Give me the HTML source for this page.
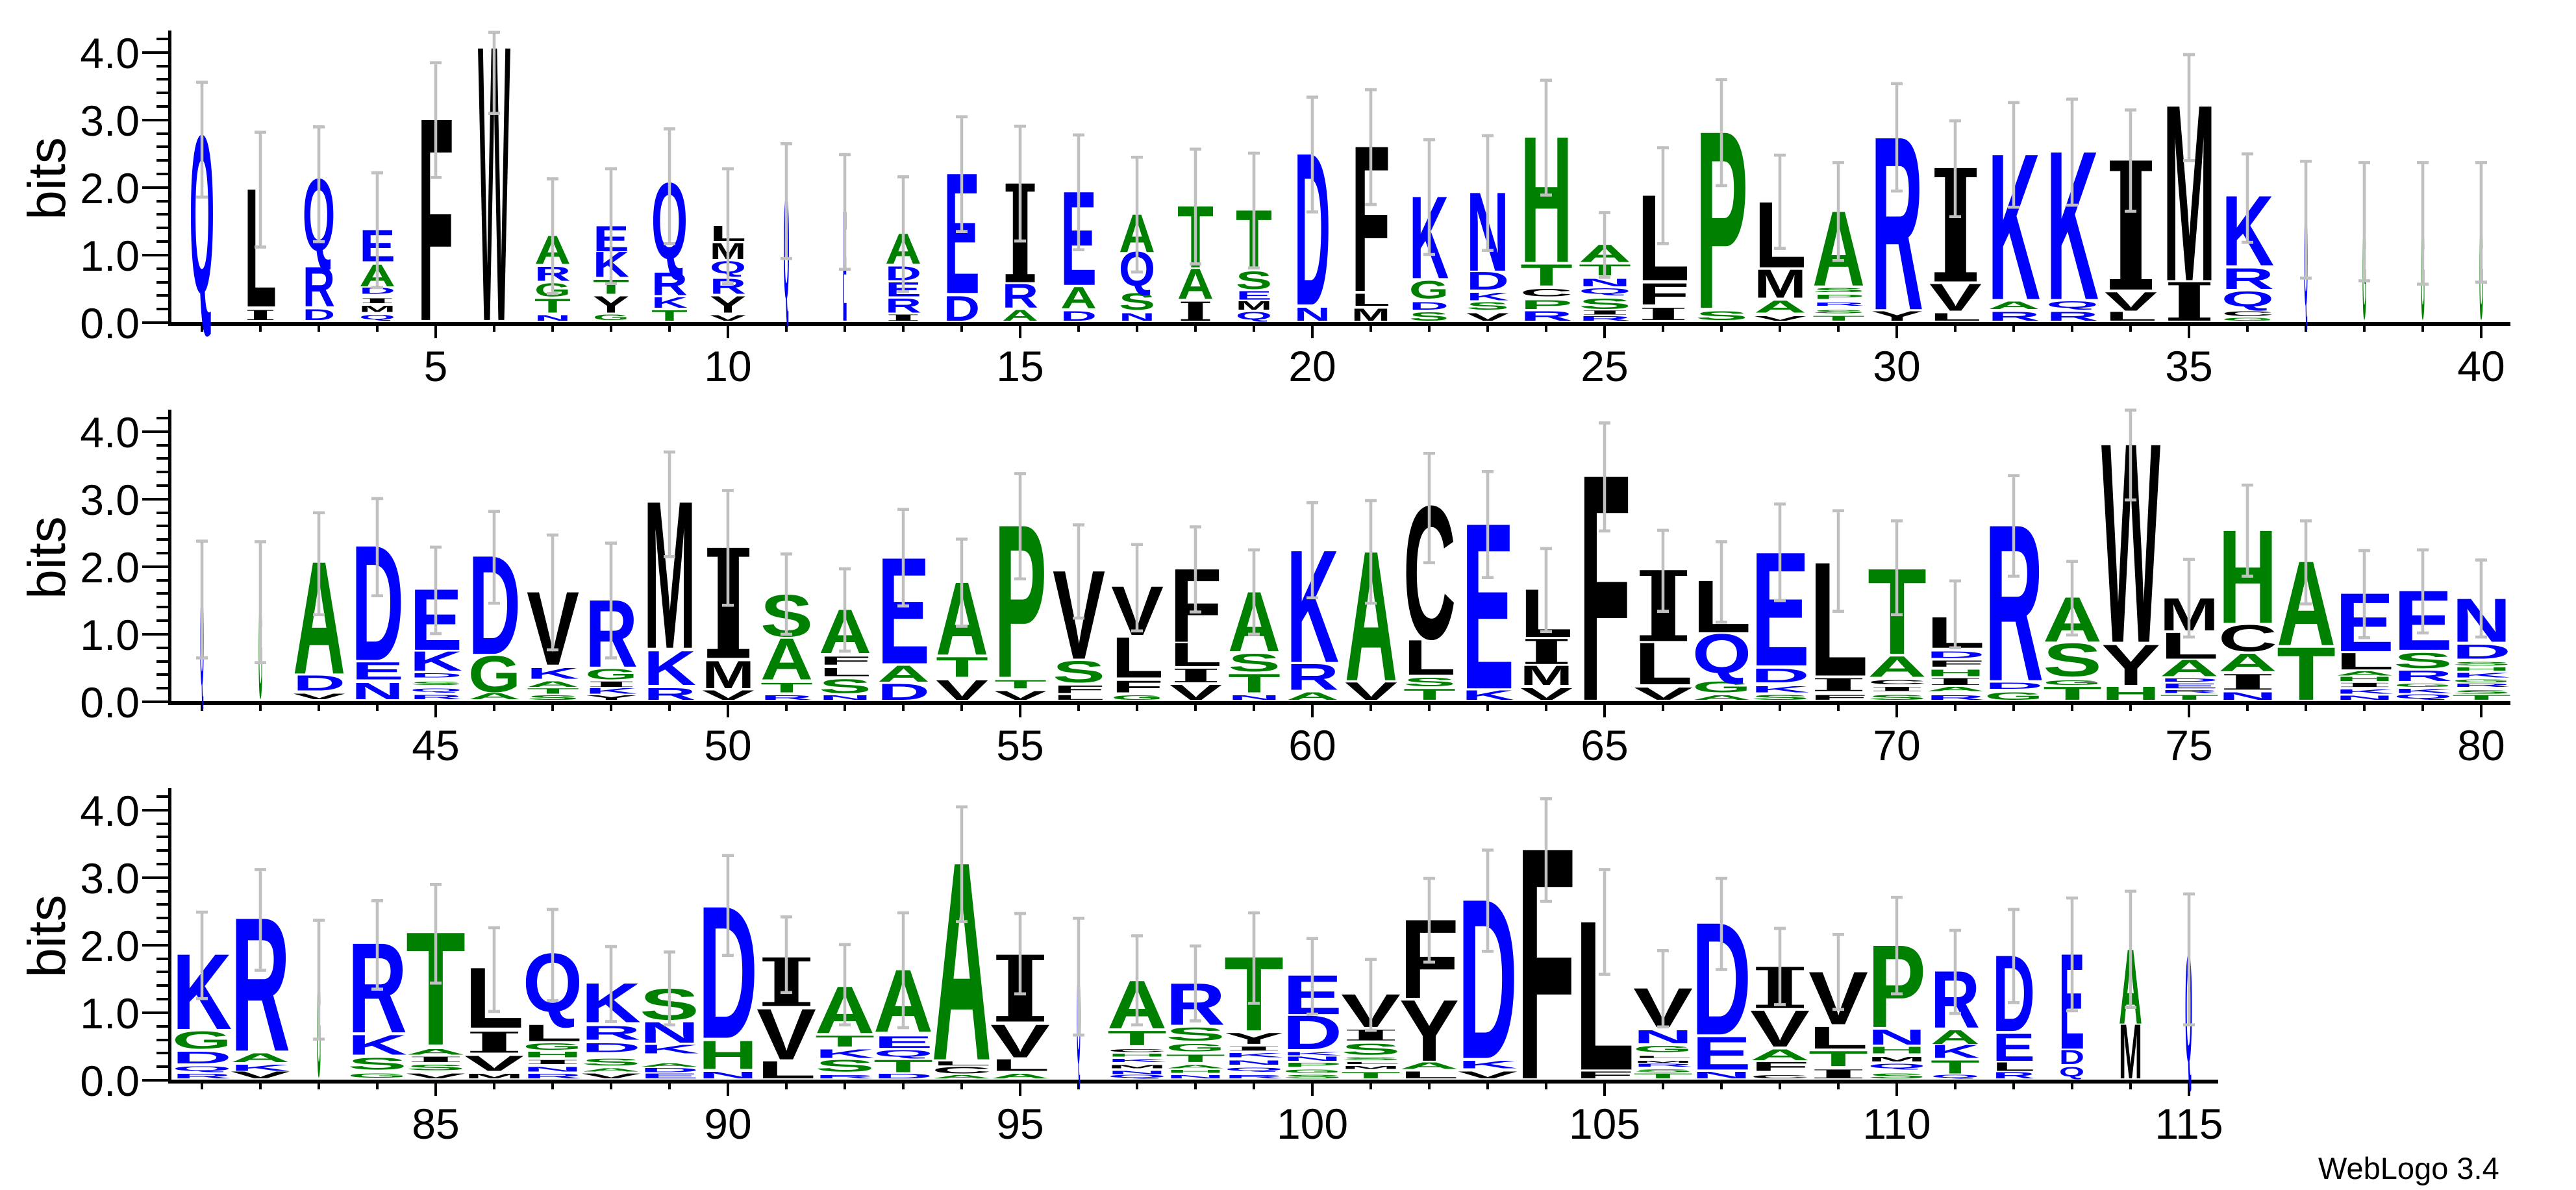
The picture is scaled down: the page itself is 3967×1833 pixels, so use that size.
<!DOCTYPE html>
<html><head><meta charset="utf-8"><style>
html,body{margin:0;padding:0;background:#fff}
svg{display:block}
.L text{font-family:"Liberation Sans",sans-serif;font-weight:bold;font-size:145.35px}
.L text.i{font-family:"DejaVu Serif",serif;font-size:137.17px}
.b{fill:#0000ff}.g{fill:#008000}.k{fill:#000}
.e{stroke:#c0c0c0;stroke-width:4.5;fill:none}
.lab{font-family:"Liberation Sans",sans-serif;font-size:66px;fill:#000}
</style></head><body>
<svg width="3967" height="1833" viewBox="0 0 3967 1833" xmlns="http://www.w3.org/2000/svg">
<rect width="3967" height="1833" fill="#fff"/>
<!-- axes row 1 -->
<g fill="#000">
<rect x="259" y="47" width="5" height="455"/>
<rect x="262" y="496" width="3604" height="6"/>
<rect x="219" y="495" width="43" height="4"/><rect x="219" y="391" width="43" height="4"/><rect x="219" y="287" width="43" height="4"/><rect x="219" y="183" width="43" height="4"/><rect x="219" y="79" width="43" height="4"/>
<rect x="241" y="474" width="21" height="4"/><rect x="241" y="453" width="21" height="4"/><rect x="241" y="433" width="21" height="4"/><rect x="241" y="412" width="21" height="4"/><rect x="241" y="370" width="21" height="4"/><rect x="241" y="349" width="21" height="4"/><rect x="241" y="328" width="21" height="4"/><rect x="241" y="308" width="21" height="4"/><rect x="241" y="266" width="21" height="4"/><rect x="241" y="245" width="21" height="4"/><rect x="241" y="224" width="21" height="4"/><rect x="241" y="204" width="21" height="4"/><rect x="241" y="162" width="21" height="4"/><rect x="241" y="141" width="21" height="4"/><rect x="241" y="120" width="21" height="4"/><rect x="241" y="100" width="21" height="4"/><rect x="241" y="58" width="21" height="4"/>
</g>
<!-- axes row 2 -->
<g fill="#000">
<rect x="259" y="631" width="5" height="455"/>
<rect x="262" y="1080" width="3604" height="6"/>
<rect x="219" y="1079" width="43" height="4"/><rect x="219" y="975" width="43" height="4"/><rect x="219" y="871" width="43" height="4"/><rect x="219" y="767" width="43" height="4"/><rect x="219" y="663" width="43" height="4"/>
<rect x="241" y="1058" width="21" height="4"/><rect x="241" y="1037" width="21" height="4"/><rect x="241" y="1017" width="21" height="4"/><rect x="241" y="996" width="21" height="4"/><rect x="241" y="954" width="21" height="4"/><rect x="241" y="933" width="21" height="4"/><rect x="241" y="912" width="21" height="4"/><rect x="241" y="892" width="21" height="4"/><rect x="241" y="850" width="21" height="4"/><rect x="241" y="829" width="21" height="4"/><rect x="241" y="808" width="21" height="4"/><rect x="241" y="788" width="21" height="4"/><rect x="241" y="746" width="21" height="4"/><rect x="241" y="725" width="21" height="4"/><rect x="241" y="704" width="21" height="4"/><rect x="241" y="684" width="21" height="4"/><rect x="241" y="642" width="21" height="4"/>
</g>
<!-- axes row 3 -->
<g fill="#000">
<rect x="259" y="1214" width="5" height="455"/>
<rect x="262" y="1663" width="3154" height="6"/>
<rect x="219" y="1662" width="43" height="4"/><rect x="219" y="1558" width="43" height="4"/><rect x="219" y="1454" width="43" height="4"/><rect x="219" y="1350" width="43" height="4"/><rect x="219" y="1246" width="43" height="4"/>
<rect x="241" y="1641" width="21" height="4"/><rect x="241" y="1620" width="21" height="4"/><rect x="241" y="1600" width="21" height="4"/><rect x="241" y="1579" width="21" height="4"/><rect x="241" y="1537" width="21" height="4"/><rect x="241" y="1516" width="21" height="4"/><rect x="241" y="1495" width="21" height="4"/><rect x="241" y="1475" width="21" height="4"/><rect x="241" y="1433" width="21" height="4"/><rect x="241" y="1412" width="21" height="4"/><rect x="241" y="1391" width="21" height="4"/><rect x="241" y="1371" width="21" height="4"/><rect x="241" y="1329" width="21" height="4"/><rect x="241" y="1308" width="21" height="4"/><rect x="241" y="1287" width="21" height="4"/><rect x="241" y="1267" width="21" height="4"/><rect x="241" y="1225" width="21" height="4"/>
</g>
<!-- x ticks -->
<g stroke="#000" stroke-width="4">
<path d="M311 502v9M401 502v9M491 502v9M581 502v9M671 502v19M761 502v9M851 502v9M941 502v9M1031 502v9M1121 502v19M1211 502v9M1301 502v9M1391 502v9M1481 502v9M1571 502v19M1661 502v9M1751 502v9M1841 502v9M1931 502v9M2021 502v19M2111 502v9M2201 502v9M2291 502v9M2381 502v9M2471 502v19M2561 502v9M2651 502v9M2741 502v9M2831 502v9M2921 502v19M3011 502v9M3101 502v9M3191 502v9M3281 502v9M3371 502v19M3461 502v9M3551 502v9M3641 502v9M3731 502v9M3821 502v19"/>
<path d="M311 1086v9M401 1086v9M491 1086v9M581 1086v9M671 1086v19M761 1086v9M851 1086v9M941 1086v9M1031 1086v9M1121 1086v19M1211 1086v9M1301 1086v9M1391 1086v9M1481 1086v9M1571 1086v19M1661 1086v9M1751 1086v9M1841 1086v9M1931 1086v9M2021 1086v19M2111 1086v9M2201 1086v9M2291 1086v9M2381 1086v9M2471 1086v19M2561 1086v9M2651 1086v9M2741 1086v9M2831 1086v9M2921 1086v19M3011 1086v9M3101 1086v9M3191 1086v9M3281 1086v9M3371 1086v19M3461 1086v9M3551 1086v9M3641 1086v9M3731 1086v9M3821 1086v19"/>
<path d="M311 1669v9M401 1669v9M491 1669v9M581 1669v9M671 1669v19M761 1669v9M851 1669v9M941 1669v9M1031 1669v9M1121 1669v19M1211 1669v9M1301 1669v9M1391 1669v9M1481 1669v9M1571 1669v19M1661 1669v9M1751 1669v9M1841 1669v9M1931 1669v9M2021 1669v19M2111 1669v9M2201 1669v9M2291 1669v9M2381 1669v9M2471 1669v19M2561 1669v9M2651 1669v9M2741 1669v9M2831 1669v9M2921 1669v19M3011 1669v9M3101 1669v9M3191 1669v9M3281 1669v9M3371 1669v19"/>
</g>
<!-- labels -->
<g class="lab" text-anchor="end">
<text x="215" y="521">0.0</text><text x="215" y="417">1.0</text><text x="215" y="313">2.0</text><text x="215" y="209">3.0</text><text x="215" y="105">4.0</text>
<text x="215" y="1105">0.0</text><text x="215" y="1001">1.0</text><text x="215" y="897">2.0</text><text x="215" y="793">3.0</text><text x="215" y="689">4.0</text>
<text x="215" y="1688">0.0</text><text x="215" y="1584">1.0</text><text x="215" y="1480">2.0</text><text x="215" y="1376">3.0</text><text x="215" y="1272">4.0</text>
</g>
<g class="lab" text-anchor="middle">
<text x="671" y="587">5</text><text x="1121" y="587">10</text><text x="1571" y="587">15</text><text x="2021" y="587">20</text><text x="2471" y="587">25</text><text x="2921" y="587">30</text><text x="3371" y="587">35</text><text x="3821" y="587">40</text>
<text x="671" y="1171">45</text><text x="1121" y="1171">50</text><text x="1571" y="1171">55</text><text x="2021" y="1171">60</text><text x="2471" y="1171">65</text><text x="2921" y="1171">70</text><text x="3371" y="1171">75</text><text x="3821" y="1171">80</text>
<text x="671" y="1754">85</text><text x="1121" y="1754">90</text><text x="1571" y="1754">95</text><text x="2021" y="1754">100</text><text x="2471" y="1754">105</text><text x="2921" y="1754">110</text><text x="3371" y="1754">115</text>
<text transform="translate(100,275) rotate(-90)" style="font-size:82px">bits</text>
<text transform="translate(100,859) rotate(-90)" style="font-size:82px">bits</text>
<text transform="translate(100,1442) rotate(-90)" style="font-size:82px">bits</text>
</g>
<text x="3570" y="1816" style="font-family:'Liberation Sans',sans-serif;font-size:47px">WebLogo 3.4</text>

<g class="L">
<!-- ROW 1 -->
<g transform="translate(311,497) scale(1,1.04)"><text class="b" x="-19" textLength="38" lengthAdjust="spacingAndGlyphs" transform="translate(0,-45) scale(1,2.3)">Q</text><path class="e" d="M-9 -356h18M0 -356V-186M-9 -186h18"/></g>
<g transform="translate(401,497) scale(1,1.04)"><text class="k i" x="-25" textLength="50" lengthAdjust="spacingAndGlyphs" transform="translate(0,-4) scale(1,0.15)">I</text><text class="k" x="-25" textLength="50" lengthAdjust="spacingAndGlyphs" transform="translate(0,-24) scale(1,1.73)">L</text><path class="e" d="M-9 -282h18M0 -282V-112M-9 -112h18"/></g>
<g transform="translate(491,497) scale(1,1.04)"><text class="b" x="-25" textLength="50" lengthAdjust="spacingAndGlyphs" transform="translate(0,-4) scale(1,0.16)">D</text><text class="b" x="-25" textLength="50" lengthAdjust="spacingAndGlyphs" transform="translate(0,-24) scale(1,0.58)">R</text><text class="b" x="-25" textLength="50" lengthAdjust="spacingAndGlyphs" transform="translate(0,-107) scale(1,1.05)">Q</text><path class="e" d="M-9 -290h18M0 -290V-120M-9 -120h18"/></g>
<g transform="translate(581,497) scale(1,1.04)"><text class="b" x="-28" textLength="56" lengthAdjust="spacingAndGlyphs" transform="translate(0,-5) scale(1,0.07)">Q</text><text class="k" x="-28" textLength="56" lengthAdjust="spacingAndGlyphs" transform="translate(0,-16) scale(1,0.09)">M</text><text class="k i" x="-28" textLength="56" lengthAdjust="spacingAndGlyphs" transform="translate(0,-29) scale(1,0.07)">I</text><text class="b" x="-28" textLength="56" lengthAdjust="spacingAndGlyphs" transform="translate(0,-43) scale(1,0.09)">D</text><text class="g" x="-28" textLength="56" lengthAdjust="spacingAndGlyphs" transform="translate(0,-54) scale(1,0.32)">A</text><text class="b" x="-28" textLength="56" lengthAdjust="spacingAndGlyphs" transform="translate(0,-91) scale(1,0.46)">E</text><path class="e" d="M-9 -222h18M0 -222V-52M-9 -52h18"/></g>
<g transform="translate(671,497) scale(1,1.04)"><text class="k" x="-28" textLength="56" lengthAdjust="spacingAndGlyphs" transform="translate(0,-4) scale(1,2.96)">F</text><path class="e" d="M-9 -385h18M0 -385V-215M-9 -215h18"/></g>
<g transform="translate(761,497) scale(1,1.04)"><text class="k" x="-25" textLength="50" lengthAdjust="spacingAndGlyphs" transform="translate(0,-4) scale(1,4.02)">W</text><path class="e" d="M-9 -430h18M0 -430V-310M-9 -310h18"/></g>
<g transform="translate(851,497) scale(1,1.04)"><text class="b" x="-28" textLength="56" lengthAdjust="spacingAndGlyphs" transform="translate(0,-3) scale(1,0.08)">N</text><text class="g" x="-28" textLength="56" lengthAdjust="spacingAndGlyphs" transform="translate(0,-15) scale(1,0.2)">T</text><text class="g" x="-28" textLength="56" lengthAdjust="spacingAndGlyphs" transform="translate(0,-39) scale(1,0.19)">G</text><text class="b" x="-28" textLength="56" lengthAdjust="spacingAndGlyphs" transform="translate(0,-62) scale(1,0.21)">R</text><text class="g" x="-28" textLength="56" lengthAdjust="spacingAndGlyphs" transform="translate(0,-87) scale(1,0.41)">A</text><path class="e" d="M-9 -213h18M0 -213V-43M-9 -43h18"/></g>
<g transform="translate(941,497) scale(1,1.04)"><text class="g" x="-28" textLength="56" lengthAdjust="spacingAndGlyphs" transform="translate(0,-4) scale(1,0.08)">G</text><text class="k" x="-28" textLength="56" lengthAdjust="spacingAndGlyphs" transform="translate(0,-15) scale(1,0.24)">Y</text><text class="g" x="-28" textLength="56" lengthAdjust="spacingAndGlyphs" transform="translate(0,-43) scale(1,0.21)">T</text><text class="b" x="-28" textLength="56" lengthAdjust="spacingAndGlyphs" transform="translate(0,-68) scale(1,0.37)">K</text><text class="b" x="-28" textLength="56" lengthAdjust="spacingAndGlyphs" transform="translate(0,-106) scale(1,0.37)">E</text><path class="e" d="M-9 -228h18M0 -228V-58M-9 -58h18"/></g>
<g transform="translate(1031,497) scale(1,1.04)"><text class="g" x="-28" textLength="56" lengthAdjust="spacingAndGlyphs" transform="translate(0,-3) scale(1,0.15)">T</text><text class="b" x="-28" textLength="56" lengthAdjust="spacingAndGlyphs" transform="translate(0,-22) scale(1,0.15)">K</text><text class="b" x="-28" textLength="56" lengthAdjust="spacingAndGlyphs" transform="translate(0,-41) scale(1,0.33)">R</text><text class="b" x="-28" textLength="56" lengthAdjust="spacingAndGlyphs" transform="translate(0,-95) scale(1,1.11)">Q</text><path class="e" d="M-9 -287h18M0 -287V-117M-9 -117h18"/></g>
<g transform="translate(1121,497) scale(1,1.04)"><text class="k" x="-28" textLength="56" lengthAdjust="spacingAndGlyphs" transform="translate(0,-3) scale(1,0.08)">V</text><text class="k" x="-28" textLength="56" lengthAdjust="spacingAndGlyphs" transform="translate(0,-15) scale(1,0.24)">Y</text><text class="b" x="-28" textLength="56" lengthAdjust="spacingAndGlyphs" transform="translate(0,-43) scale(1,0.22)">R</text><text class="b" x="-28" textLength="56" lengthAdjust="spacingAndGlyphs" transform="translate(0,-73) scale(1,0.18)">Q</text><text class="k" x="-28" textLength="56" lengthAdjust="spacingAndGlyphs" transform="translate(0,-94) scale(1,0.23)">M</text><text class="k" x="-28" textLength="56" lengthAdjust="spacingAndGlyphs" transform="translate(0,-121) scale(1,0.22)">L</text><path class="e" d="M-9 -228h18M0 -228V-58M-9 -58h18"/></g>
<g transform="translate(1211,497) scale(1,1.04)"><text class="b" x="-4.5" textLength="9" lengthAdjust="spacingAndGlyphs" transform="translate(0,-36) scale(1,1.5)">Q</text><path class="e" d="M-9 -265h18M0 -265V-95M-9 -95h18"/></g>
<g transform="translate(1301,497) scale(1,1.04)"><text class="b" x="-3" textLength="6" lengthAdjust="spacingAndGlyphs" transform="translate(0,-3) scale(1,1.61)">E</text><path class="e" d="M-9 -249h18M0 -249V-79M-9 -79h18"/></g>
<g transform="translate(1391,497) scale(1,1.04)"><text class="k i" x="-28" textLength="56" lengthAdjust="spacingAndGlyphs" transform="translate(0,-3) scale(1,0.09)">I</text><text class="b" x="-28" textLength="56" lengthAdjust="spacingAndGlyphs" transform="translate(0,-15) scale(1,0.21)">R</text><text class="b" x="-28" textLength="56" lengthAdjust="spacingAndGlyphs" transform="translate(0,-39) scale(1,0.21)">E</text><text class="b" x="-28" textLength="56" lengthAdjust="spacingAndGlyphs" transform="translate(0,-63) scale(1,0.2)">D</text><text class="g" x="-28" textLength="56" lengthAdjust="spacingAndGlyphs" transform="translate(0,-87) scale(1,0.44)">A</text><path class="e" d="M-9 -216h18M0 -216V-46M-9 -46h18"/></g>
<g transform="translate(1481,497) scale(1,1.04)"><text class="b" x="-28" textLength="56" lengthAdjust="spacingAndGlyphs" transform="translate(0,-3) scale(1,0.36)">D</text><text class="b" x="-28" textLength="56" lengthAdjust="spacingAndGlyphs" transform="translate(0,-44) scale(1,1.76)">E</text><path class="e" d="M-9 -305h18M0 -305V-135M-9 -135h18"/></g>
<g transform="translate(1571,497) scale(1,1.04)"><text class="g" x="-28" textLength="56" lengthAdjust="spacingAndGlyphs" transform="translate(0,-3) scale(1,0.16)">A</text><text class="b" x="-28" textLength="56" lengthAdjust="spacingAndGlyphs" transform="translate(0,-22) scale(1,0.35)">R</text><text class="k i" x="-28" textLength="56" lengthAdjust="spacingAndGlyphs" transform="translate(0,-60) scale(1,1.46)">I</text><path class="e" d="M-9 -291h18M0 -291V-121M-9 -121h18"/></g>
<g transform="translate(1661,497) scale(1,1.04)"><text class="b" x="-28" textLength="56" lengthAdjust="spacingAndGlyphs" transform="translate(0,-3) scale(1,0.14)">D</text><text class="g" x="-28" textLength="56" lengthAdjust="spacingAndGlyphs" transform="translate(0,-21) scale(1,0.31)">A</text><text class="b" x="-28" textLength="56" lengthAdjust="spacingAndGlyphs" transform="translate(0,-56) scale(1,1.37)">E</text><path class="e" d="M-9 -278h18M0 -278V-108M-9 -108h18"/></g>
<g transform="translate(1751,497) scale(1,1.04)"><text class="b" x="-28" textLength="56" lengthAdjust="spacingAndGlyphs" transform="translate(0,-3) scale(1,0.11)">N</text><text class="g" x="-28" textLength="56" lengthAdjust="spacingAndGlyphs" transform="translate(0,-19) scale(1,0.24)">S</text><text class="b" x="-28" textLength="56" lengthAdjust="spacingAndGlyphs" transform="translate(0,-55) scale(1,0.5)">Q</text><text class="g" x="-28" textLength="56" lengthAdjust="spacingAndGlyphs" transform="translate(0,-105) scale(1,0.55)">A</text><path class="e" d="M-9 -245h18M0 -245V-75M-9 -75h18"/></g>
<g transform="translate(1841,497) scale(1,1.04)"><text class="k i" x="-28" textLength="56" lengthAdjust="spacingAndGlyphs" transform="translate(0,-3) scale(1,0.28)">I</text><text class="g" x="-28" textLength="56" lengthAdjust="spacingAndGlyphs" transform="translate(0,-35) scale(1,0.44)">A</text><text class="g" x="-28" textLength="56" lengthAdjust="spacingAndGlyphs" transform="translate(0,-82) scale(1,0.9)">T</text><path class="e" d="M-9 -257h18M0 -257V-87M-9 -87h18"/></g>
<g transform="translate(1931,497) scale(1,1.04)"><text class="b" x="-28" textLength="56" lengthAdjust="spacingAndGlyphs" transform="translate(0,-5) scale(1,0.11)">Q</text><text class="k" x="-28" textLength="56" lengthAdjust="spacingAndGlyphs" transform="translate(0,-19) scale(1,0.12)">M</text><text class="b" x="-28" textLength="56" lengthAdjust="spacingAndGlyphs" transform="translate(0,-34) scale(1,0.12)">E</text><text class="g" x="-28" textLength="56" lengthAdjust="spacingAndGlyphs" transform="translate(0,-50) scale(1,0.26)">S</text><text class="g" x="-28" textLength="56" lengthAdjust="spacingAndGlyphs" transform="translate(0,-80) scale(1,0.86)">T</text><path class="e" d="M-9 -251h18M0 -251V-81M-9 -81h18"/></g>
<g transform="translate(2021,497) scale(1,1.04)"><text class="b" x="-28" textLength="56" lengthAdjust="spacingAndGlyphs" transform="translate(0,-3) scale(1,0.19)">N</text><text class="b" x="-28" textLength="56" lengthAdjust="spacingAndGlyphs" transform="translate(0,-27) scale(1,2.22)">D</text><path class="e" d="M-9 -334h18M0 -334V-164M-9 -164h18"/></g>
<g transform="translate(2111,497) scale(1,1.04)"><text class="k" x="-30" textLength="60" lengthAdjust="spacingAndGlyphs" transform="translate(0,-3) scale(1,0.18)">M</text><text class="k" x="-30" textLength="60" lengthAdjust="spacingAndGlyphs" transform="translate(0,-25) scale(1,0.18)">L</text><text class="k" x="-30" textLength="60" lengthAdjust="spacingAndGlyphs" transform="translate(0,-47) scale(1,2.13)">F</text><path class="e" d="M-9 -345h18M0 -345V-175M-9 -175h18"/></g>
<g transform="translate(2201,497) scale(1,1.04)"><text class="g" x="-31" textLength="61" lengthAdjust="spacingAndGlyphs" transform="translate(0,-3) scale(1,0.12)">S</text><text class="b" x="-31" textLength="61" lengthAdjust="spacingAndGlyphs" transform="translate(0,-19) scale(1,0.11)">D</text><text class="g" x="-31" textLength="61" lengthAdjust="spacingAndGlyphs" transform="translate(0,-36) scale(1,0.26)">G</text><text class="b" x="-31" textLength="61" lengthAdjust="spacingAndGlyphs" transform="translate(0,-66) scale(1,1.2)">K</text><path class="e" d="M-9 -271h18M0 -271V-101M-9 -101h18"/></g>
<g transform="translate(2291,497) scale(1,1.04)"><text class="k" x="-33" textLength="66" lengthAdjust="spacingAndGlyphs" transform="translate(0,-3) scale(1,0.11)">V</text><text class="g" x="-33" textLength="66" lengthAdjust="spacingAndGlyphs" transform="translate(0,-19) scale(1,0.11)">S</text><text class="b" x="-33" textLength="66" lengthAdjust="spacingAndGlyphs" transform="translate(0,-33) scale(1,0.11)">K</text><text class="b" x="-33" textLength="66" lengthAdjust="spacingAndGlyphs" transform="translate(0,-49) scale(1,0.26)">D</text><text class="b" x="-33" textLength="66" lengthAdjust="spacingAndGlyphs" transform="translate(0,-77) scale(1,1.15)">N</text><path class="e" d="M-9 -277h18M0 -277V-107M-9 -107h18"/></g>
<g transform="translate(2381,497) scale(1,1.04)"><text class="b" x="-40" textLength="81" lengthAdjust="spacingAndGlyphs" transform="translate(0,-3) scale(1,0.14)">R</text><text class="g" x="-40" textLength="81" lengthAdjust="spacingAndGlyphs" transform="translate(0,-20) scale(1,0.13)">P</text><text class="k" x="-40" textLength="81" lengthAdjust="spacingAndGlyphs" transform="translate(0,-39) scale(1,0.11)">C</text><text class="g" x="-40" textLength="81" lengthAdjust="spacingAndGlyphs" transform="translate(0,-55) scale(1,0.31)">T</text><text class="g" x="-40" textLength="81" lengthAdjust="spacingAndGlyphs" transform="translate(0,-90) scale(1,1.84)">H</text><path class="e" d="M-9 -359h18M0 -359V-189M-9 -189h18"/></g>
<g transform="translate(2471,497) scale(1,1.04)"><text class="b" x="-40" textLength="81" lengthAdjust="spacingAndGlyphs" transform="translate(0,-3) scale(1,0.07)">R</text><text class="k i" x="-40" textLength="81" lengthAdjust="spacingAndGlyphs" transform="translate(0,-12) scale(1,0.06)">I</text><text class="g" x="-40" textLength="81" lengthAdjust="spacingAndGlyphs" transform="translate(0,-20) scale(1,0.15)">S</text><text class="b" x="-40" textLength="81" lengthAdjust="spacingAndGlyphs" transform="translate(0,-43) scale(1,0.08)">Q</text><text class="b" x="-40" textLength="81" lengthAdjust="spacingAndGlyphs" transform="translate(0,-54) scale(1,0.11)">N</text><text class="g" x="-40" textLength="81" lengthAdjust="spacingAndGlyphs" transform="translate(0,-70) scale(1,0.16)">T</text><text class="g" x="-40" textLength="81" lengthAdjust="spacingAndGlyphs" transform="translate(0,-90) scale(1,0.25)">A</text><path class="e" d="M-9 -163h18M0 -163V-67M-9 -67h18"/></g>
<g transform="translate(2561,497) scale(1,1.04)"><text class="k i" x="-40" textLength="81" lengthAdjust="spacingAndGlyphs" transform="translate(0,-4) scale(1,0.18)">I</text><text class="k" x="-40" textLength="81" lengthAdjust="spacingAndGlyphs" transform="translate(0,-27) scale(1,0.31)">F</text><text class="k" x="-40" textLength="81" lengthAdjust="spacingAndGlyphs" transform="translate(0,-63) scale(1,1.25)">L</text><path class="e" d="M-9 -259h18M0 -259V-117M-9 -117h18"/></g>
<g transform="translate(2651,497) scale(1,1.04)"><text class="g" x="-40" textLength="81" lengthAdjust="spacingAndGlyphs" transform="translate(0,-4) scale(1,0.13)">S</text><text class="g" x="-40" textLength="81" lengthAdjust="spacingAndGlyphs" transform="translate(0,-22) scale(1,2.59)">P</text><path class="e" d="M-9 -360h18M0 -360V-203M-9 -203h18"/></g>
<g transform="translate(2741,497) scale(1,1.04)"><text class="k" x="-40" textLength="81" lengthAdjust="spacingAndGlyphs" transform="translate(0,-3) scale(1,0.07)">V</text><text class="g" x="-40" textLength="81" lengthAdjust="spacingAndGlyphs" transform="translate(0,-15) scale(1,0.18)">A</text><text class="k" x="-40" textLength="81" lengthAdjust="spacingAndGlyphs" transform="translate(0,-37) scale(1,0.41)">M</text><text class="k" x="-40" textLength="81" lengthAdjust="spacingAndGlyphs" transform="translate(0,-82) scale(1,0.96)">L</text><path class="e" d="M-9 -248h18M0 -248V-110M-9 -110h18"/></g>
<g transform="translate(2831,497) scale(1,1.04)"><text class="g" x="-40" textLength="81" lengthAdjust="spacingAndGlyphs" transform="translate(0,-3) scale(1,0.07)">T</text><text class="g" x="-40" textLength="81" lengthAdjust="spacingAndGlyphs" transform="translate(0,-14) scale(1,0.05)">S</text><text class="b" x="-40" textLength="81" lengthAdjust="spacingAndGlyphs" transform="translate(0,-25) scale(1,0.05)">R</text><text class="g" x="-40" textLength="81" lengthAdjust="spacingAndGlyphs" transform="translate(0,-35) scale(1,0.06)">P</text><text class="g" x="-40" textLength="81" lengthAdjust="spacingAndGlyphs" transform="translate(0,-45) scale(1,0.06)">S</text><text class="g" x="-40" textLength="81" lengthAdjust="spacingAndGlyphs" transform="translate(0,-55) scale(1,1.09)">A</text><path class="e" d="M-9 -237h18M0 -237V-92M-9 -92h18"/></g>
<g transform="translate(2921,497) scale(1,1.04)"><text class="k" x="-40" textLength="81" lengthAdjust="spacingAndGlyphs" transform="translate(0,-3) scale(1,0.14)">Y</text><text class="b" x="-40" textLength="81" lengthAdjust="spacingAndGlyphs" transform="translate(0,-20) scale(1,2.53)">R</text><path class="e" d="M-9 -354h18M0 -354V-195M-9 -195h18"/></g>
<g transform="translate(3011,497) scale(1,1.04)"><text class="k" x="-40" textLength="81" lengthAdjust="spacingAndGlyphs" transform="translate(0,-3) scale(1,0.11)">L</text><text class="k" x="-40" textLength="81" lengthAdjust="spacingAndGlyphs" transform="translate(0,-18) scale(1,0.39)">V</text><text class="k i" x="-40" textLength="81" lengthAdjust="spacingAndGlyphs" transform="translate(0,-61) scale(1,1.68)">I</text><path class="e" d="M-9 -299h18M0 -299V-157M-9 -157h18"/></g>
<g transform="translate(3101,497) scale(1,1.04)"><text class="b" x="-40" textLength="81" lengthAdjust="spacingAndGlyphs" transform="translate(0,-3) scale(1,0.13)">R</text><text class="g" x="-40" textLength="81" lengthAdjust="spacingAndGlyphs" transform="translate(0,-20) scale(1,0.11)">A</text><text class="b" x="-40" textLength="81" lengthAdjust="spacingAndGlyphs" transform="translate(0,-35) scale(1,2.13)">K</text><path class="e" d="M-9 -326h18M0 -326V-171M-9 -171h18"/></g>
<g transform="translate(3191,497) scale(1,1.04)"><text class="b" x="-40" textLength="81" lengthAdjust="spacingAndGlyphs" transform="translate(0,-3) scale(1,0.13)">R</text><text class="b" x="-40" textLength="81" lengthAdjust="spacingAndGlyphs" transform="translate(0,-22) scale(1,0.1)">Q</text><text class="b" x="-40" textLength="81" lengthAdjust="spacingAndGlyphs" transform="translate(0,-35) scale(1,2.17)">K</text><path class="e" d="M-9 -331h18M0 -331V-174M-9 -174h18"/></g>
<g transform="translate(3281,497) scale(1,1.04)"><text class="k" x="-40" textLength="81" lengthAdjust="spacingAndGlyphs" transform="translate(0,-3) scale(1,0.13)">L</text><text class="k" x="-40" textLength="81" lengthAdjust="spacingAndGlyphs" transform="translate(0,-18) scale(1,0.27)">V</text><text class="k i" x="-40" textLength="81" lengthAdjust="spacingAndGlyphs" transform="translate(0,-49) scale(1,1.91)">I</text><path class="e" d="M-9 -315h18M0 -315V-165M-9 -165h18"/></g>
<g transform="translate(3371,497) scale(1,1.04)"><text class="k i" x="-40" textLength="81" lengthAdjust="spacingAndGlyphs" transform="translate(0,-3) scale(1,0.57)">I</text><text class="k" x="-40" textLength="81" lengthAdjust="spacingAndGlyphs" transform="translate(0,-63) scale(1,2.57)">M</text><path class="e" d="M-9 -397h18M0 -397V-240M-9 -240h18"/></g>
<g transform="translate(3461,497) scale(1,1.04)"><text class="g" x="-40" textLength="81" lengthAdjust="spacingAndGlyphs" transform="translate(0,-3) scale(1,0.04)">G</text><text class="k" x="-40" textLength="81" lengthAdjust="spacingAndGlyphs" transform="translate(0,-10) scale(1,0.07)">C</text><text class="b" x="-40" textLength="81" lengthAdjust="spacingAndGlyphs" transform="translate(0,-24) scale(1,0.22)">Q</text><text class="b" x="-40" textLength="81" lengthAdjust="spacingAndGlyphs" transform="translate(0,-50) scale(1,0.3)">R</text><text class="b" x="-40" textLength="81" lengthAdjust="spacingAndGlyphs" transform="translate(0,-85) scale(1,1.02)">K</text><path class="e" d="M-9 -250h18M0 -250V-119M-9 -119h18"/></g>
<g transform="translate(3551,497) scale(1,1.04)"><text class="b" x="-3" textLength="6" lengthAdjust="spacingAndGlyphs" transform="translate(0,-26) scale(1,1.35)">Q</text><path class="e" d="M-9 -239h18M0 -239V-66M-9 -66h18"/></g>
<g transform="translate(3641,497) scale(1,1.04)"><text class="g" x="-3" textLength="6" lengthAdjust="spacingAndGlyphs" transform="translate(0,-6) scale(1,1.38)">G</text><path class="e" d="M-9 -237h18M0 -237V-62M-9 -62h18"/></g>
<g transform="translate(3731,497) scale(1,1.04)"><text class="g" x="-3" textLength="6" lengthAdjust="spacingAndGlyphs" transform="translate(0,-6) scale(1,1.38)">G</text><path class="e" d="M-9 -237h18M0 -237V-57M-9 -57h18"/></g>
<g transform="translate(3821,497) scale(1,1.04)"><text class="g" x="-3" textLength="6" lengthAdjust="spacingAndGlyphs" transform="translate(0,-6) scale(1,1.4)">G</text><path class="e" d="M-9 -237h18M0 -237V-60M-9 -60h18"/></g>

<!-- ROW 2 -->
<g transform="translate(311,1081) scale(1,1.04)"><text class="b" x="-3" textLength="6" lengthAdjust="spacingAndGlyphs" transform="translate(0,-25) scale(1,1.33)">Q</text><path class="e" d="M-9 -238h18M0 -238V-65M-9 -65h18"/></g>
<g transform="translate(401,1081) scale(1,1.04)"><text class="g" x="-3" textLength="6" lengthAdjust="spacingAndGlyphs" transform="translate(0,-6) scale(1,1.41)">G</text><path class="e" d="M-9 -237h18M0 -237V-58M-9 -58h18"/></g>
<g transform="translate(491,1081) scale(1,1.04)"><text class="k" x="-40" textLength="81" lengthAdjust="spacingAndGlyphs" transform="translate(0,-4) scale(1,0.08)">V</text><text class="b" x="-40" textLength="81" lengthAdjust="spacingAndGlyphs" transform="translate(0,-17) scale(1,0.22)">D</text><text class="g" x="-40" textLength="81" lengthAdjust="spacingAndGlyphs" transform="translate(0,-42) scale(1,1.64)">A</text><path class="e" d="M-9 -280h18M0 -280V-129M-9 -129h18"/></g>
<g transform="translate(581,1081) scale(1,1.04)"><text class="b" x="-40" textLength="81" lengthAdjust="spacingAndGlyphs" transform="translate(0,-4) scale(1,0.24)">N</text><text class="b" x="-40" textLength="81" lengthAdjust="spacingAndGlyphs" transform="translate(0,-33) scale(1,0.25)">E</text><text class="b" x="-40" textLength="81" lengthAdjust="spacingAndGlyphs" transform="translate(0,-62) scale(1,1.68)">D</text><path class="e" d="M-9 -301h18M0 -301V-157M-9 -157h18"/></g>
<g transform="translate(671,1081) scale(1,1.04)"><text class="b" x="-40" textLength="81" lengthAdjust="spacingAndGlyphs" transform="translate(0,-4) scale(1,0.06)">R</text><text class="b" x="-40" textLength="81" lengthAdjust="spacingAndGlyphs" transform="translate(0,-15) scale(1,0.05)">Q</text><text class="g" x="-40" textLength="81" lengthAdjust="spacingAndGlyphs" transform="translate(0,-25) scale(1,0.05)">S</text><text class="b" x="-40" textLength="81" lengthAdjust="spacingAndGlyphs" transform="translate(0,-36) scale(1,0.06)">D</text><text class="b" x="-40" textLength="81" lengthAdjust="spacingAndGlyphs" transform="translate(0,-46) scale(1,0.28)">K</text><text class="b" x="-40" textLength="81" lengthAdjust="spacingAndGlyphs" transform="translate(0,-77) scale(1,0.89)">E</text><path class="e" d="M-9 -229h18M0 -229V-101M-9 -101h18"/></g>
<g transform="translate(761,1081) scale(1,1.04)"><text class="g" x="-40" textLength="81" lengthAdjust="spacingAndGlyphs" transform="translate(0,-4) scale(1,0.09)">A</text><text class="g" x="-40" textLength="81" lengthAdjust="spacingAndGlyphs" transform="translate(0,-15) scale(1,0.53)">G</text><text class="b" x="-40" textLength="81" lengthAdjust="spacingAndGlyphs" transform="translate(0,-71) scale(1,1.44)">D</text><path class="e" d="M-9 -282h18M0 -282V-146M-9 -146h18"/></g>
<g transform="translate(851,1081) scale(1,1.04)"><text class="g" x="-40" textLength="81" lengthAdjust="spacingAndGlyphs" transform="translate(0,-3) scale(1,0.07)">S</text><text class="g" x="-40" textLength="81" lengthAdjust="spacingAndGlyphs" transform="translate(0,-12) scale(1,0.08)">T</text><text class="g" x="-40" textLength="81" lengthAdjust="spacingAndGlyphs" transform="translate(0,-22) scale(1,0.08)">A</text><text class="b" x="-40" textLength="81" lengthAdjust="spacingAndGlyphs" transform="translate(0,-34) scale(1,0.16)">K</text><text class="k" x="-40" textLength="81" lengthAdjust="spacingAndGlyphs" transform="translate(0,-55) scale(1,1.07)">V</text><path class="e" d="M-9 -247h18M0 -247V-77M-9 -77h18"/></g>
<g transform="translate(941,1081) scale(1,1.04)"><text class="k" x="-40" textLength="81" lengthAdjust="spacingAndGlyphs" transform="translate(0,-3) scale(1,0.07)">Y</text><text class="b" x="-40" textLength="81" lengthAdjust="spacingAndGlyphs" transform="translate(0,-12) scale(1,0.08)">K</text><text class="k i" x="-40" textLength="81" lengthAdjust="spacingAndGlyphs" transform="translate(0,-22) scale(1,0.08)">I</text><text class="g" x="-40" textLength="81" lengthAdjust="spacingAndGlyphs" transform="translate(0,-33) scale(1,0.15)">G</text><text class="b" x="-40" textLength="81" lengthAdjust="spacingAndGlyphs" transform="translate(0,-52) scale(1,0.98)">R</text><path class="e" d="M-9 -235h18M0 -235V-65M-9 -65h18"/></g>
<g transform="translate(1031,1081) scale(1,1.04)"><text class="b" x="-40" textLength="81" lengthAdjust="spacingAndGlyphs" transform="translate(0,-3) scale(1,0.17)">R</text><text class="b" x="-40" textLength="81" lengthAdjust="spacingAndGlyphs" transform="translate(0,-25) scale(1,0.5)">K</text><text class="k" x="-40" textLength="81" lengthAdjust="spacingAndGlyphs" transform="translate(0,-80) scale(1,2.15)">M</text><path class="e" d="M-9 -370h18M0 -370V-215M-9 -215h18"/></g>
<g transform="translate(1121,1081) scale(1,1.04)"><text class="k" x="-40" textLength="81" lengthAdjust="spacingAndGlyphs" transform="translate(0,-3) scale(1,0.14)">V</text><text class="k" x="-40" textLength="81" lengthAdjust="spacingAndGlyphs" transform="translate(0,-20) scale(1,0.4)">M</text><text class="k i" x="-40" textLength="81" lengthAdjust="spacingAndGlyphs" transform="translate(0,-65) scale(1,1.63)">I</text><path class="e" d="M-9 -313h18M0 -313V-143M-9 -143h18"/></g>
<g transform="translate(1211,1081) scale(1,1.04)"><text class="b" x="-40" textLength="81" lengthAdjust="spacingAndGlyphs" transform="translate(0,-3) scale(1,0.07)">R</text><text class="g" x="-40" textLength="81" lengthAdjust="spacingAndGlyphs" transform="translate(0,-14) scale(1,0.14)">T</text><text class="g" x="-40" textLength="81" lengthAdjust="spacingAndGlyphs" transform="translate(0,-33) scale(1,0.6)">A</text><text class="g" x="-40" textLength="81" lengthAdjust="spacingAndGlyphs" transform="translate(0,-97) scale(1,0.61)">S</text><path class="e" d="M-9 -219h18M0 -219V-100M-9 -100h18"/></g>
<g transform="translate(1301,1081) scale(1,1.04)"><text class="b" x="-40" textLength="81" lengthAdjust="spacingAndGlyphs" transform="translate(0,-3) scale(1,0.07)">N</text><text class="g" x="-40" textLength="81" lengthAdjust="spacingAndGlyphs" transform="translate(0,-13) scale(1,0.2)">S</text><text class="k" x="-40" textLength="81" lengthAdjust="spacingAndGlyphs" transform="translate(0,-38) scale(1,0.12)">L</text><text class="k" x="-40" textLength="81" lengthAdjust="spacingAndGlyphs" transform="translate(0,-55) scale(1,0.12)">F</text><text class="g" x="-40" textLength="81" lengthAdjust="spacingAndGlyphs" transform="translate(0,-72) scale(1,0.64)">A</text><path class="e" d="M-9 -197h18M0 -197V-75M-9 -75h18"/></g>
<g transform="translate(1391,1081) scale(1,1.04)"><text class="b" x="-40" textLength="81" lengthAdjust="spacingAndGlyphs" transform="translate(0,-3) scale(1,0.23)">D</text><text class="g" x="-40" textLength="81" lengthAdjust="spacingAndGlyphs" transform="translate(0,-30) scale(1,0.23)">A</text><text class="b" x="-40" textLength="81" lengthAdjust="spacingAndGlyphs" transform="translate(0,-57) scale(1,1.55)">E</text><path class="e" d="M-9 -285h18M0 -285V-142M-9 -142h18"/></g>
<g transform="translate(1481,1081) scale(1,1.04)"><text class="k" x="-40" textLength="81" lengthAdjust="spacingAndGlyphs" transform="translate(0,-3) scale(1,0.29)">V</text><text class="g" x="-40" textLength="81" lengthAdjust="spacingAndGlyphs" transform="translate(0,-37) scale(1,0.29)">T</text><text class="g" x="-40" textLength="81" lengthAdjust="spacingAndGlyphs" transform="translate(0,-70) scale(1,1.06)">A</text><path class="e" d="M-9 -241h18M0 -241V-112M-9 -112h18"/></g>
<g transform="translate(1571,1081) scale(1,1.04)"><text class="k" x="-40" textLength="81" lengthAdjust="spacingAndGlyphs" transform="translate(0,-3) scale(1,0.13)">V</text><text class="g" x="-40" textLength="81" lengthAdjust="spacingAndGlyphs" transform="translate(0,-20) scale(1,0.12)">T</text><text class="g" x="-40" textLength="81" lengthAdjust="spacingAndGlyphs" transform="translate(0,-37) scale(1,2.23)">P</text><path class="e" d="M-9 -338h18M0 -338V-182M-9 -182h18"/></g>
<g transform="translate(1661,1081) scale(1,1.04)"><text class="k" x="-40" textLength="81" lengthAdjust="spacingAndGlyphs" transform="translate(0,-3) scale(1,0.07)">L</text><text class="k" x="-40" textLength="81" lengthAdjust="spacingAndGlyphs" transform="translate(0,-13) scale(1,0.11)">F</text><text class="g" x="-40" textLength="81" lengthAdjust="spacingAndGlyphs" transform="translate(0,-29) scale(1,0.31)">S</text><text class="k" x="-40" textLength="81" lengthAdjust="spacingAndGlyphs" transform="translate(0,-64) scale(1,1.29)">V</text><path class="e" d="M-9 -262h18M0 -262V-124M-9 -124h18"/></g>
<g transform="translate(1751,1081) scale(1,1.04)"><text class="g" x="-40" textLength="81" lengthAdjust="spacingAndGlyphs" transform="translate(0,-3) scale(1,0.07)">G</text><text class="k" x="-40" textLength="81" lengthAdjust="spacingAndGlyphs" transform="translate(0,-14) scale(1,0.17)">F</text><text class="k" x="-40" textLength="81" lengthAdjust="spacingAndGlyphs" transform="translate(0,-36) scale(1,0.59)">L</text><text class="k" x="-40" textLength="81" lengthAdjust="spacingAndGlyphs" transform="translate(0,-99) scale(1,0.71)">V</text><path class="e" d="M-9 -233h18M0 -233V-105M-9 -105h18"/></g>
<g transform="translate(1841,1081) scale(1,1.04)"><text class="k" x="-40" textLength="81" lengthAdjust="spacingAndGlyphs" transform="translate(0,-3) scale(1,0.22)">V</text><text class="k i" x="-40" textLength="81" lengthAdjust="spacingAndGlyphs" transform="translate(0,-29) scale(1,0.2)">I</text><text class="k" x="-40" textLength="81" lengthAdjust="spacingAndGlyphs" transform="translate(0,-53) scale(1,0.34)">L</text><text class="k" x="-40" textLength="81" lengthAdjust="spacingAndGlyphs" transform="translate(0,-89) scale(1,1.07)">F</text><path class="e" d="M-9 -259h18M0 -259V-133M-9 -133h18"/></g>
<g transform="translate(1931,1081) scale(1,1.04)"><text class="b" x="-40" textLength="81" lengthAdjust="spacingAndGlyphs" transform="translate(0,-3) scale(1,0.07)">N</text><text class="g" x="-40" textLength="81" lengthAdjust="spacingAndGlyphs" transform="translate(0,-14) scale(1,0.27)">T</text><text class="g" x="-40" textLength="81" lengthAdjust="spacingAndGlyphs" transform="translate(0,-45) scale(1,0.26)">S</text><text class="g" x="-40" textLength="81" lengthAdjust="spacingAndGlyphs" transform="translate(0,-75) scale(1,0.87)">A</text><path class="e" d="M-9 -225h18M0 -225V-100M-9 -100h18"/></g>
<g transform="translate(2021,1081) scale(1,1.04)"><text class="g" x="-40" textLength="81" lengthAdjust="spacingAndGlyphs" transform="translate(0,-3) scale(1,0.11)">A</text><text class="b" x="-40" textLength="81" lengthAdjust="spacingAndGlyphs" transform="translate(0,-18) scale(1,0.38)">R</text><text class="b" x="-40" textLength="81" lengthAdjust="spacingAndGlyphs" transform="translate(0,-59) scale(1,1.64)">K</text><path class="e" d="M-9 -295h18M0 -295V-154M-9 -154h18"/></g>
<g transform="translate(2111,1081) scale(1,1.04)"><text class="k" x="-40" textLength="81" lengthAdjust="spacingAndGlyphs" transform="translate(0,-3) scale(1,0.26)">V</text><text class="g" x="-40" textLength="81" lengthAdjust="spacingAndGlyphs" transform="translate(0,-32) scale(1,1.89)">A</text><path class="e" d="M-9 -298h18M0 -298V-146M-9 -146h18"/></g>
<g transform="translate(2201,1081) scale(1,1.04)"><text class="g" x="-40" textLength="81" lengthAdjust="spacingAndGlyphs" transform="translate(0,-3) scale(1,0.16)">T</text><text class="g" x="-40" textLength="81" lengthAdjust="spacingAndGlyphs" transform="translate(0,-23) scale(1,0.12)">S</text><text class="k" x="-40" textLength="81" lengthAdjust="spacingAndGlyphs" transform="translate(0,-40) scale(1,0.51)">L</text><text class="k" x="-40" textLength="81" lengthAdjust="spacingAndGlyphs" transform="translate(0,-94) scale(1,1.94)">C</text><path class="e" d="M-9 -368h18M0 -368V-206M-9 -206h18"/></g>
<g transform="translate(2291,1081) scale(1,1.04)"><text class="b" x="-40" textLength="81" lengthAdjust="spacingAndGlyphs" transform="translate(0,-3) scale(1,0.14)">K</text><text class="b" x="-40" textLength="81" lengthAdjust="spacingAndGlyphs" transform="translate(0,-20) scale(1,2.42)">E</text><path class="e" d="M-9 -341h18M0 -341V-184M-9 -184h18"/></g>
<g transform="translate(2381,1081) scale(1,1.04)"><text class="k" x="-40" textLength="81" lengthAdjust="spacingAndGlyphs" transform="translate(0,-3) scale(1,0.17)">V</text><text class="k" x="-40" textLength="81" lengthAdjust="spacingAndGlyphs" transform="translate(0,-25) scale(1,0.28)">M</text><text class="k i" x="-40" textLength="81" lengthAdjust="spacingAndGlyphs" transform="translate(0,-56) scale(1,0.37)">I</text><text class="k" x="-40" textLength="81" lengthAdjust="spacingAndGlyphs" transform="translate(0,-96) scale(1,0.7)">L</text><path class="e" d="M-9 -227h18M0 -227V-104M-9 -104h18"/></g>
<g transform="translate(2471,1081) scale(1,1.04)"><text class="k" x="-40" textLength="81" lengthAdjust="spacingAndGlyphs" transform="translate(0,-3) scale(1,3.3)">F</text><path class="e" d="M-9 -413h18M0 -413V-253M-9 -253h18"/></g>
<g transform="translate(2561,1081) scale(1,1.04)"><text class="k" x="-45" textLength="91" lengthAdjust="spacingAndGlyphs" transform="translate(0,-3) scale(1,0.18)">V</text><text class="k" x="-45" textLength="91" lengthAdjust="spacingAndGlyphs" transform="translate(0,-26) scale(1,0.61)">L</text><text class="k i" x="-45" textLength="91" lengthAdjust="spacingAndGlyphs" transform="translate(0,-90) scale(1,1.05)">I</text><path class="e" d="M-9 -254h18M0 -254V-134M-9 -134h18"/></g>
<g transform="translate(2651,1081) scale(1,1.04)"><text class="g" x="-45" textLength="91" lengthAdjust="spacingAndGlyphs" transform="translate(0,-3) scale(1,0.07)">A</text><text class="g" x="-45" textLength="91" lengthAdjust="spacingAndGlyphs" transform="translate(0,-14) scale(1,0.16)">G</text><text class="b" x="-45" textLength="91" lengthAdjust="spacingAndGlyphs" transform="translate(0,-43) scale(1,0.57)">Q</text><text class="k" x="-45" textLength="91" lengthAdjust="spacingAndGlyphs" transform="translate(0,-103) scale(1,0.76)">L</text><path class="e" d="M-9 -237h18M0 -237V-118M-9 -118h18"/></g>
<g transform="translate(2741,1081) scale(1,1.04)"><text class="g" x="-45" textLength="91" lengthAdjust="spacingAndGlyphs" transform="translate(0,-3) scale(1,0.07)">S</text><text class="b" x="-45" textLength="91" lengthAdjust="spacingAndGlyphs" transform="translate(0,-14) scale(1,0.09)">K</text><text class="b" x="-45" textLength="91" lengthAdjust="spacingAndGlyphs" transform="translate(0,-29) scale(1,0.2)">D</text><text class="b" x="-45" textLength="91" lengthAdjust="spacingAndGlyphs" transform="translate(0,-54) scale(1,1.66)">E</text><path class="e" d="M-9 -293h18M0 -293V-150M-9 -150h18"/></g>
<g transform="translate(2831,1081) scale(1,1.04)"><text class="k" x="-45" textLength="91" lengthAdjust="spacingAndGlyphs" transform="translate(0,-3) scale(1,0.07)">F</text><text class="k i" x="-45" textLength="91" lengthAdjust="spacingAndGlyphs" transform="translate(0,-16) scale(1,0.19)">I</text><text class="k" x="-45" textLength="91" lengthAdjust="spacingAndGlyphs" transform="translate(0,-39) scale(1,1.66)">L</text><path class="e" d="M-9 -283h18M0 -283V-134M-9 -134h18"/></g>
<g transform="translate(2921,1081) scale(1,1.04)"><text class="g" x="-45" textLength="91" lengthAdjust="spacingAndGlyphs" transform="translate(0,-3) scale(1,0.07)">S</text><text class="k i" x="-45" textLength="91" lengthAdjust="spacingAndGlyphs" transform="translate(0,-16) scale(1,0.06)">I</text><text class="k" x="-45" textLength="91" lengthAdjust="spacingAndGlyphs" transform="translate(0,-26) scale(1,0.06)">C</text><text class="g" x="-45" textLength="91" lengthAdjust="spacingAndGlyphs" transform="translate(0,-37) scale(1,0.3)">A</text><text class="g" x="-45" textLength="91" lengthAdjust="spacingAndGlyphs" transform="translate(0,-71) scale(1,1.25)">T</text><path class="e" d="M-9 -268h18M0 -268V-129M-9 -129h18"/></g>
<g transform="translate(3011,1081) scale(1,1.04)"><text class="b" x="-45" textLength="91" lengthAdjust="spacingAndGlyphs" transform="translate(0,-3) scale(1,0.07)">R</text><text class="g" x="-45" textLength="91" lengthAdjust="spacingAndGlyphs" transform="translate(0,-16) scale(1,0.06)">A</text><text class="k i" x="-45" textLength="91" lengthAdjust="spacingAndGlyphs" transform="translate(0,-25) scale(1,0.1)">I</text><text class="g" x="-45" textLength="91" lengthAdjust="spacingAndGlyphs" transform="translate(0,-38) scale(1,0.1)">H</text><text class="k" x="-45" textLength="91" lengthAdjust="spacingAndGlyphs" transform="translate(0,-52) scale(1,0.09)">F</text><text class="b" x="-45" textLength="91" lengthAdjust="spacingAndGlyphs" transform="translate(0,-65) scale(1,0.1)">D</text><text class="k" x="-45" textLength="91" lengthAdjust="spacingAndGlyphs" transform="translate(0,-80) scale(1,0.45)">L</text><path class="e" d="M-9 -179h18M0 -179V-80M-9 -80h18"/></g>
<g transform="translate(3101,1081) scale(1,1.04)"><text class="g" x="-45" textLength="91" lengthAdjust="spacingAndGlyphs" transform="translate(0,-3) scale(1,0.11)">G</text><text class="b" x="-45" textLength="91" lengthAdjust="spacingAndGlyphs" transform="translate(0,-19) scale(1,0.09)">D</text><text class="b" x="-45" textLength="91" lengthAdjust="spacingAndGlyphs" transform="translate(0,-32) scale(1,2.28)">R</text><path class="e" d="M-9 -335h18M0 -335V-186M-9 -186h18"/></g>
<g transform="translate(3191,1081) scale(1,1.04)"><text class="g" x="-45" textLength="91" lengthAdjust="spacingAndGlyphs" transform="translate(0,-3) scale(1,0.19)">T</text><text class="g" x="-45" textLength="91" lengthAdjust="spacingAndGlyphs" transform="translate(0,-25) scale(1,0.07)">G</text><text class="g" x="-45" textLength="91" lengthAdjust="spacingAndGlyphs" transform="translate(0,-38) scale(1,0.48)">S</text><text class="g" x="-45" textLength="91" lengthAdjust="spacingAndGlyphs" transform="translate(0,-89) scale(1,0.65)">A</text><path class="e" d="M-9 -208h18M0 -208V-99M-9 -99h18"/></g>
<g transform="translate(3281,1081) scale(1,1.04)"><text class="g" x="-45" textLength="91" lengthAdjust="spacingAndGlyphs" transform="translate(0,-3) scale(1,0.19)">H</text><text class="k" x="-45" textLength="91" lengthAdjust="spacingAndGlyphs" transform="translate(0,-25) scale(1,0.59)">Y</text><text class="k" x="-45" textLength="91" lengthAdjust="spacingAndGlyphs" transform="translate(0,-89) scale(1,2.91)">W</text><path class="e" d="M-9 -432h18M0 -432V-299M-9 -299h18"/></g>
<g transform="translate(3371,1081) scale(1,1.04)"><text class="g" x="-45" textLength="91" lengthAdjust="spacingAndGlyphs" transform="translate(0,-3) scale(1,0.07)">T</text><text class="b" x="-45" textLength="91" lengthAdjust="spacingAndGlyphs" transform="translate(0,-13) scale(1,0.04)">R</text><text class="b" x="-45" textLength="91" lengthAdjust="spacingAndGlyphs" transform="translate(0,-20) scale(1,0.07)">E</text><text class="b" x="-45" textLength="91" lengthAdjust="spacingAndGlyphs" transform="translate(0,-30) scale(1,0.05)">D</text><text class="g" x="-45" textLength="91" lengthAdjust="spacingAndGlyphs" transform="translate(0,-38) scale(1,0.24)">A</text><text class="k" x="-45" textLength="91" lengthAdjust="spacingAndGlyphs" transform="translate(0,-64) scale(1,0.38)">L</text><text class="k" x="-45" textLength="91" lengthAdjust="spacingAndGlyphs" transform="translate(0,-106) scale(1,0.47)">M</text><path class="e" d="M-9 -211h18M0 -211V-96M-9 -96h18"/></g>
<g transform="translate(3461,1081) scale(1,1.04)"><text class="b" x="-45" textLength="91" lengthAdjust="spacingAndGlyphs" transform="translate(0,-3) scale(1,0.11)">N</text><text class="k i" x="-45" textLength="91" lengthAdjust="spacingAndGlyphs" transform="translate(0,-18) scale(1,0.23)">I</text><text class="g" x="-45" textLength="91" lengthAdjust="spacingAndGlyphs" transform="translate(0,-45) scale(1,0.26)">A</text><text class="k" x="-45" textLength="91" lengthAdjust="spacingAndGlyphs" transform="translate(0,-75) scale(1,0.38)">C</text><text class="g" x="-45" textLength="91" lengthAdjust="spacingAndGlyphs" transform="translate(0,-117) scale(1,1.36)">H</text><path class="e" d="M-9 -321h18M0 -321V-186M-9 -186h18"/></g>
<g transform="translate(3551,1081) scale(1,1.04)"><text class="g" x="-45" textLength="91" lengthAdjust="spacingAndGlyphs" transform="translate(0,-3) scale(1,0.77)">T</text><text class="g" x="-45" textLength="91" lengthAdjust="spacingAndGlyphs" transform="translate(0,-84) scale(1,1.23)">A</text><path class="e" d="M-9 -268h18M0 -268V-145M-9 -145h18"/></g>
<g transform="translate(3641,1081) scale(1,1.04)"><text class="b" x="-45" textLength="91" lengthAdjust="spacingAndGlyphs" transform="translate(0,-3) scale(1,0.06)">N</text><text class="b" x="-45" textLength="91" lengthAdjust="spacingAndGlyphs" transform="translate(0,-12) scale(1,0.06)">K</text><text class="k i" x="-45" textLength="91" lengthAdjust="spacingAndGlyphs" transform="translate(0,-22) scale(1,0.06)">I</text><text class="g" x="-45" textLength="91" lengthAdjust="spacingAndGlyphs" transform="translate(0,-31) scale(1,0.06)">H</text><text class="g" x="-45" textLength="91" lengthAdjust="spacingAndGlyphs" transform="translate(0,-39) scale(1,0.06)">A</text><text class="k" x="-45" textLength="91" lengthAdjust="spacingAndGlyphs" transform="translate(0,-48) scale(1,0.24)">L</text><text class="b" x="-45" textLength="91" lengthAdjust="spacingAndGlyphs" transform="translate(0,-75) scale(1,0.85)">E</text><path class="e" d="M-9 -224h18M0 -224V-95M-9 -95h18"/></g>
<g transform="translate(3731,1081) scale(1,1.04)"><text class="b" x="-45" textLength="91" lengthAdjust="spacingAndGlyphs" transform="translate(0,-5) scale(1,0.06)">Q</text><text class="b" x="-45" textLength="91" lengthAdjust="spacingAndGlyphs" transform="translate(0,-13) scale(1,0.06)">K</text><text class="g" x="-45" textLength="91" lengthAdjust="spacingAndGlyphs" transform="translate(0,-22) scale(1,0.05)">G</text><text class="b" x="-45" textLength="91" lengthAdjust="spacingAndGlyphs" transform="translate(0,-31) scale(1,0.15)">R</text><text class="g" x="-45" textLength="91" lengthAdjust="spacingAndGlyphs" transform="translate(0,-50) scale(1,0.22)">S</text><text class="b" x="-45" textLength="91" lengthAdjust="spacingAndGlyphs" transform="translate(0,-77) scale(1,0.87)">E</text><path class="e" d="M-9 -225h18M0 -225V-102M-9 -102h18"/></g>
<g transform="translate(3821,1081) scale(1,1.04)"><text class="g" x="-45" textLength="91" lengthAdjust="spacingAndGlyphs" transform="translate(0,-3) scale(1,0.07)">T</text><text class="g" x="-45" textLength="91" lengthAdjust="spacingAndGlyphs" transform="translate(0,-12) scale(1,0.05)">S</text><text class="b" x="-45" textLength="91" lengthAdjust="spacingAndGlyphs" transform="translate(0,-22) scale(1,0.05)">R</text><text class="g" x="-45" textLength="91" lengthAdjust="spacingAndGlyphs" transform="translate(0,-29) scale(1,0.04)">G</text><text class="b" x="-45" textLength="91" lengthAdjust="spacingAndGlyphs" transform="translate(0,-36) scale(1,0.07)">K</text><text class="g" x="-45" textLength="91" lengthAdjust="spacingAndGlyphs" transform="translate(0,-46) scale(1,0.05)">H</text><text class="g" x="-45" textLength="91" lengthAdjust="spacingAndGlyphs" transform="translate(0,-54) scale(1,0.05)">S</text><text class="b" x="-45" textLength="91" lengthAdjust="spacingAndGlyphs" transform="translate(0,-64) scale(1,0.21)">D</text><text class="b" x="-45" textLength="91" lengthAdjust="spacingAndGlyphs" transform="translate(0,-89) scale(1,0.63)">N</text><path class="e" d="M-9 -210h18M0 -210V-96M-9 -96h18"/></g>

<!-- ROW 3 -->
<g transform="translate(311,1664) scale(1,1.04)"><text class="b" x="-46" textLength="92" lengthAdjust="spacingAndGlyphs" transform="translate(0,-3) scale(1,0.07)">R</text><text class="b" x="-46" textLength="92" lengthAdjust="spacingAndGlyphs" transform="translate(0,-14) scale(1,0.07)">Q</text><text class="b" x="-46" textLength="92" lengthAdjust="spacingAndGlyphs" transform="translate(0,-25) scale(1,0.17)">D</text><text class="g" x="-46" textLength="92" lengthAdjust="spacingAndGlyphs" transform="translate(0,-47) scale(1,0.25)">G</text><text class="b" x="-46" textLength="92" lengthAdjust="spacingAndGlyphs" transform="translate(0,-76) scale(1,1.1)">K</text><path class="e" d="M-9 -249h18M0 -249V-121M-9 -121h18"/></g>
<g transform="translate(401,1664) scale(1,1.04)"><text class="k" x="-46" textLength="92" lengthAdjust="spacingAndGlyphs" transform="translate(0,-3) scale(1,0.1)">V</text><text class="b" x="-46" textLength="92" lengthAdjust="spacingAndGlyphs" transform="translate(0,-14) scale(1,0.09)">K</text><text class="g" x="-46" textLength="92" lengthAdjust="spacingAndGlyphs" transform="translate(0,-27) scale(1,0.13)">A</text><text class="b" x="-46" textLength="92" lengthAdjust="spacingAndGlyphs" transform="translate(0,-44) scale(1,1.95)">R</text><path class="e" d="M-9 -312h18M0 -312V-163M-9 -163h18"/></g>
<g transform="translate(491,1664) scale(1,1.04)"><text class="g" x="-3" textLength="6" lengthAdjust="spacingAndGlyphs" transform="translate(0,-6) scale(1,1.43)">G</text><path class="e" d="M-9 -237h18M0 -237V-61M-9 -61h18"/></g>
<g transform="translate(581,1664) scale(1,1.04)"><text class="g" x="-46" textLength="92" lengthAdjust="spacingAndGlyphs" transform="translate(0,-4) scale(1,0.06)">G</text><text class="g" x="-46" textLength="92" lengthAdjust="spacingAndGlyphs" transform="translate(0,-16) scale(1,0.17)">S</text><text class="b" x="-46" textLength="92" lengthAdjust="spacingAndGlyphs" transform="translate(0,-38) scale(1,0.29)">K</text><text class="b" x="-46" textLength="92" lengthAdjust="spacingAndGlyphs" transform="translate(0,-71) scale(1,1.31)">R</text><path class="e" d="M-9 -266h18M0 -266V-135M-9 -135h18"/></g>
<g transform="translate(671,1664) scale(1,1.04)"><text class="k" x="-46" textLength="92" lengthAdjust="spacingAndGlyphs" transform="translate(0,-3) scale(1,0.07)">V</text><text class="g" x="-46" textLength="92" lengthAdjust="spacingAndGlyphs" transform="translate(0,-15) scale(1,0.08)">S</text><text class="k i" x="-46" textLength="92" lengthAdjust="spacingAndGlyphs" transform="translate(0,-27) scale(1,0.08)">I</text><text class="g" x="-46" textLength="92" lengthAdjust="spacingAndGlyphs" transform="translate(0,-38) scale(1,0.08)">A</text><text class="g" x="-46" textLength="92" lengthAdjust="spacingAndGlyphs" transform="translate(0,-53) scale(1,1.65)">T</text><path class="e" d="M-9 -290h18M0 -290V-144M-9 -144h18"/></g>
<g transform="translate(761,1664) scale(1,1.04)"><text class="k" x="-46" textLength="92" lengthAdjust="spacingAndGlyphs" transform="translate(0,-3) scale(1,0.07)">M</text><text class="k" x="-46" textLength="92" lengthAdjust="spacingAndGlyphs" transform="translate(0,-14) scale(1,0.22)">V</text><text class="k i" x="-46" textLength="92" lengthAdjust="spacingAndGlyphs" transform="translate(0,-41) scale(1,0.31)">I</text><text class="k" x="-46" textLength="92" lengthAdjust="spacingAndGlyphs" transform="translate(0,-78) scale(1,0.88)">L</text><path class="e" d="M-9 -226h18M0 -226V-102M-9 -102h18"/></g>
<g transform="translate(851,1664) scale(1,1.04)"><text class="b" x="-46" textLength="92" lengthAdjust="spacingAndGlyphs" transform="translate(0,-3) scale(1,0.07)">R</text><text class="b" x="-46" textLength="92" lengthAdjust="spacingAndGlyphs" transform="translate(0,-13) scale(1,0.07)">N</text><text class="k i" x="-46" textLength="92" lengthAdjust="spacingAndGlyphs" transform="translate(0,-24) scale(1,0.06)">I</text><text class="g" x="-46" textLength="92" lengthAdjust="spacingAndGlyphs" transform="translate(0,-34) scale(1,0.08)">H</text><text class="g" x="-46" textLength="92" lengthAdjust="spacingAndGlyphs" transform="translate(0,-45) scale(1,0.1)">G</text><text class="k" x="-46" textLength="92" lengthAdjust="spacingAndGlyphs" transform="translate(0,-58) scale(1,0.24)">L</text><text class="b" x="-46" textLength="92" lengthAdjust="spacingAndGlyphs" transform="translate(0,-102) scale(1,0.85)">Q</text><path class="e" d="M-9 -253h18M0 -253V-118M-9 -118h18"/></g>
<g transform="translate(941,1664) scale(1,1.04)"><text class="k" x="-46" textLength="92" lengthAdjust="spacingAndGlyphs" transform="translate(0,-3) scale(1,0.07)">V</text><text class="g" x="-46" textLength="92" lengthAdjust="spacingAndGlyphs" transform="translate(0,-13) scale(1,0.05)">A</text><text class="g" x="-46" textLength="92" lengthAdjust="spacingAndGlyphs" transform="translate(0,-22) scale(1,0.1)">S</text><text class="b" x="-46" textLength="92" lengthAdjust="spacingAndGlyphs" transform="translate(0,-42) scale(1,0.13)">D</text><text class="b" x="-46" textLength="92" lengthAdjust="spacingAndGlyphs" transform="translate(0,-60) scale(1,0.2)">R</text><text class="b" x="-46" textLength="92" lengthAdjust="spacingAndGlyphs" transform="translate(0,-86) scale(1,0.57)">K</text><path class="e" d="M-9 -198h18M0 -198V-87M-9 -87h18"/></g>
<g transform="translate(1031,1664) scale(1,1.04)"><text class="b" x="-46" textLength="92" lengthAdjust="spacingAndGlyphs" transform="translate(0,-3) scale(1,0.07)">E</text><text class="b" x="-46" textLength="92" lengthAdjust="spacingAndGlyphs" transform="translate(0,-12) scale(1,0.06)">D</text><text class="g" x="-46" textLength="92" lengthAdjust="spacingAndGlyphs" transform="translate(0,-20) scale(1,0.05)">A</text><text class="b" x="-46" textLength="92" lengthAdjust="spacingAndGlyphs" transform="translate(0,-40) scale(1,0.12)">K</text><text class="b" x="-46" textLength="92" lengthAdjust="spacingAndGlyphs" transform="translate(0,-56) scale(1,0.3)">N</text><text class="g" x="-46" textLength="92" lengthAdjust="spacingAndGlyphs" transform="translate(0,-90) scale(1,0.45)">S</text><path class="e" d="M-9 -190h18M0 -190V-82M-9 -82h18"/></g>
<g transform="translate(1121,1664) scale(1,1.04)"><text class="b" x="-46" textLength="92" lengthAdjust="spacingAndGlyphs" transform="translate(0,-3) scale(1,0.1)">N</text><text class="g" x="-46" textLength="92" lengthAdjust="spacingAndGlyphs" transform="translate(0,-17) scale(1,0.41)">H</text><text class="b" x="-46" textLength="92" lengthAdjust="spacingAndGlyphs" transform="translate(0,-63) scale(1,1.93)">D</text><path class="e" d="M-9 -333h18M0 -333V-185M-9 -185h18"/></g>
<g transform="translate(1211,1664) scale(1,1.04)"><text class="k" x="-46" textLength="92" lengthAdjust="spacingAndGlyphs" transform="translate(0,-3) scale(1,0.25)">L</text><text class="k" x="-46" textLength="92" lengthAdjust="spacingAndGlyphs" transform="translate(0,-31) scale(1,0.74)">V</text><text class="k i" x="-46" textLength="92" lengthAdjust="spacingAndGlyphs" transform="translate(0,-110) scale(1,0.72)">I</text><path class="e" d="M-9 -242h18M0 -242V-130M-9 -130h18"/></g>
<g transform="translate(1301,1664) scale(1,1.04)"><text class="b" x="-46" textLength="92" lengthAdjust="spacingAndGlyphs" transform="translate(0,-3) scale(1,0.05)">R</text><text class="g" x="-46" textLength="92" lengthAdjust="spacingAndGlyphs" transform="translate(0,-13) scale(1,0.17)">S</text><text class="b" x="-46" textLength="92" lengthAdjust="spacingAndGlyphs" transform="translate(0,-33) scale(1,0.12)">K</text><text class="g" x="-46" textLength="92" lengthAdjust="spacingAndGlyphs" transform="translate(0,-50) scale(1,0.16)">T</text><text class="g" x="-46" textLength="92" lengthAdjust="spacingAndGlyphs" transform="translate(0,-70) scale(1,0.68)">A</text><path class="e" d="M-9 -201h18M0 -201V-82M-9 -82h18"/></g>
<g transform="translate(1391,1664) scale(1,1.04)"><text class="b" x="-46" textLength="92" lengthAdjust="spacingAndGlyphs" transform="translate(0,-3) scale(1,0.07)">D</text><text class="g" x="-46" textLength="92" lengthAdjust="spacingAndGlyphs" transform="translate(0,-12) scale(1,0.18)">T</text><text class="b" x="-46" textLength="92" lengthAdjust="spacingAndGlyphs" transform="translate(0,-35) scale(1,0.1)">Q</text><text class="b" x="-46" textLength="92" lengthAdjust="spacingAndGlyphs" transform="translate(0,-48) scale(1,0.17)">E</text><text class="g" x="-46" textLength="92" lengthAdjust="spacingAndGlyphs" transform="translate(0,-72) scale(1,0.91)">A</text><path class="e" d="M-9 -248h18M0 -248V-78M-9 -78h18"/></g>
<g transform="translate(1481,1664) scale(1,1.04)"><text class="g" x="-46" textLength="92" lengthAdjust="spacingAndGlyphs" transform="translate(0,-3) scale(1,0.05)">A</text><text class="k" x="-46" textLength="92" lengthAdjust="spacingAndGlyphs" transform="translate(0,-10) scale(1,0.1)">C</text><text class="k" x="-46" textLength="92" lengthAdjust="spacingAndGlyphs" transform="translate(0,-22) scale(1,0.06)">L</text><text class="g" x="-46" textLength="92" lengthAdjust="spacingAndGlyphs" transform="translate(0,-31) scale(1,2.89)">A</text><path class="e" d="M-9 -405h18M0 -405V-235M-9 -235h18"/></g>
<g transform="translate(1571,1664) scale(1,1.04)"><text class="g" x="-46" textLength="92" lengthAdjust="spacingAndGlyphs" transform="translate(0,-3) scale(1,0.07)">A</text><text class="k" x="-46" textLength="92" lengthAdjust="spacingAndGlyphs" transform="translate(0,-14) scale(1,0.17)">L</text><text class="k" x="-46" textLength="92" lengthAdjust="spacingAndGlyphs" transform="translate(0,-34) scale(1,0.48)">V</text><text class="k i" x="-46" textLength="92" lengthAdjust="spacingAndGlyphs" transform="translate(0,-87) scale(1,0.99)">I</text><path class="e" d="M-9 -247h18M0 -247V-128M-9 -128h18"/></g>
<g transform="translate(1661,1664) scale(1,1.04)"><text class="b" x="-3" textLength="6" lengthAdjust="spacingAndGlyphs" transform="translate(0,-25) scale(1,1.35)">Q</text><path class="e" d="M-9 -240h18M0 -240V-67M-9 -67h18"/></g>
<g transform="translate(1751,1664) scale(1,1.04)"><text class="b" x="-46" textLength="92" lengthAdjust="spacingAndGlyphs" transform="translate(0,-4) scale(1,0.04)">Q</text><text class="b" x="-46" textLength="92" lengthAdjust="spacingAndGlyphs" transform="translate(0,-9) scale(1,0.05)">N</text><text class="k" x="-46" textLength="92" lengthAdjust="spacingAndGlyphs" transform="translate(0,-18) scale(1,0.05)">M</text><text class="b" x="-46" textLength="92" lengthAdjust="spacingAndGlyphs" transform="translate(0,-27) scale(1,0.05)">K</text><text class="g" x="-46" textLength="92" lengthAdjust="spacingAndGlyphs" transform="translate(0,-35) scale(1,0.04)">H</text><text class="k" x="-46" textLength="92" lengthAdjust="spacingAndGlyphs" transform="translate(0,-42) scale(1,0.04)">C</text><text class="g" x="-46" textLength="92" lengthAdjust="spacingAndGlyphs" transform="translate(0,-52) scale(1,0.21)">T</text><text class="g" x="-46" textLength="92" lengthAdjust="spacingAndGlyphs" transform="translate(0,-77) scale(1,0.7)">A</text><path class="e" d="M-9 -214h18M0 -214V-82M-9 -82h18"/></g>
<g transform="translate(1841,1664) scale(1,1.04)"><text class="b" x="-46" textLength="92" lengthAdjust="spacingAndGlyphs" transform="translate(0,-3) scale(1,0.05)">N</text><text class="g" x="-46" textLength="92" lengthAdjust="spacingAndGlyphs" transform="translate(0,-11) scale(1,0.04)">H</text><text class="g" x="-46" textLength="92" lengthAdjust="spacingAndGlyphs" transform="translate(0,-18) scale(1,0.05)">A</text><text class="g" x="-46" textLength="92" lengthAdjust="spacingAndGlyphs" transform="translate(0,-27) scale(1,0.11)">T</text><text class="g" x="-46" textLength="92" lengthAdjust="spacingAndGlyphs" transform="translate(0,-43) scale(1,0.11)">G</text><text class="g" x="-46" textLength="92" lengthAdjust="spacingAndGlyphs" transform="translate(0,-59) scale(1,0.19)">S</text><text class="b" x="-46" textLength="92" lengthAdjust="spacingAndGlyphs" transform="translate(0,-82) scale(1,0.61)">R</text><path class="e" d="M-9 -199h18M0 -199V-88M-9 -88h18"/></g>
<g transform="translate(1931,1664) scale(1,1.04)"><text class="b" x="-46" textLength="92" lengthAdjust="spacingAndGlyphs" transform="translate(0,-3) scale(1,0.05)">R</text><text class="b" x="-46" textLength="92" lengthAdjust="spacingAndGlyphs" transform="translate(0,-14) scale(1,0.05)">Q</text><text class="b" x="-46" textLength="92" lengthAdjust="spacingAndGlyphs" transform="translate(0,-23) scale(1,0.06)">N</text><text class="b" x="-46" textLength="92" lengthAdjust="spacingAndGlyphs" transform="translate(0,-34) scale(1,0.06)">K</text><text class="k i" x="-46" textLength="92" lengthAdjust="spacingAndGlyphs" transform="translate(0,-44) scale(1,0.06)">I</text><text class="k" x="-46" textLength="92" lengthAdjust="spacingAndGlyphs" transform="translate(0,-54) scale(1,0.16)">Y</text><text class="g" x="-46" textLength="92" lengthAdjust="spacingAndGlyphs" transform="translate(0,-74) scale(1,1.08)">T</text><path class="e" d="M-9 -248h18M0 -248V-114M-9 -114h18"/></g>
<g transform="translate(2021,1664) scale(1,1.04)"><text class="g" x="-46" textLength="92" lengthAdjust="spacingAndGlyphs" transform="translate(0,-3) scale(1,0.05)">S</text><text class="g" x="-46" textLength="92" lengthAdjust="spacingAndGlyphs" transform="translate(0,-11) scale(1,0.05)">G</text><text class="g" x="-46" textLength="92" lengthAdjust="spacingAndGlyphs" transform="translate(0,-20) scale(1,0.06)">P</text><text class="b" x="-46" textLength="92" lengthAdjust="spacingAndGlyphs" transform="translate(0,-29) scale(1,0.06)">N</text><text class="b" x="-46" textLength="92" lengthAdjust="spacingAndGlyphs" transform="translate(0,-37) scale(1,0.05)">K</text><text class="b" x="-46" textLength="92" lengthAdjust="spacingAndGlyphs" transform="translate(0,-46) scale(1,0.49)">D</text><text class="b" x="-46" textLength="92" lengthAdjust="spacingAndGlyphs" transform="translate(0,-98) scale(1,0.57)">E</text><path class="e" d="M-9 -210h18M0 -210V-98M-9 -98h18"/></g>
<g transform="translate(2111,1664) scale(1,1.04)"><text class="g" x="-46" textLength="92" lengthAdjust="spacingAndGlyphs" transform="translate(0,-3) scale(1,0.09)">T</text><text class="k" x="-46" textLength="92" lengthAdjust="spacingAndGlyphs" transform="translate(0,-17) scale(1,0.04)">M</text><text class="k" x="-46" textLength="92" lengthAdjust="spacingAndGlyphs" transform="translate(0,-24) scale(1,0.03)">L</text><text class="g" x="-46" textLength="92" lengthAdjust="spacingAndGlyphs" transform="translate(0,-30) scale(1,0.04)">S</text><text class="g" x="-46" textLength="92" lengthAdjust="spacingAndGlyphs" transform="translate(0,-38) scale(1,0.16)">S</text><text class="k i" x="-46" textLength="92" lengthAdjust="spacingAndGlyphs" transform="translate(0,-59) scale(1,0.16)">I</text><text class="k" x="-46" textLength="92" lengthAdjust="spacingAndGlyphs" transform="translate(0,-79) scale(1,0.48)">V</text><path class="e" d="M-9 -179h18M0 -179V-74M-9 -74h18"/></g>
<g transform="translate(2201,1664) scale(1,1.04)"><text class="k" x="-46" textLength="92" lengthAdjust="spacingAndGlyphs" transform="translate(0,-3) scale(1,0.1)">L</text><text class="g" x="-46" textLength="92" lengthAdjust="spacingAndGlyphs" transform="translate(0,-17) scale(1,0.1)">A</text><text class="k" x="-46" textLength="92" lengthAdjust="spacingAndGlyphs" transform="translate(0,-29) scale(1,0.89)">Y</text><text class="k" x="-46" textLength="92" lengthAdjust="spacingAndGlyphs" transform="translate(0,-122) scale(1,1.15)">F</text><path class="e" d="M-9 -299h18M0 -299V-175M-9 -175h18"/></g>
<g transform="translate(2291,1664) scale(1,1.04)"><text class="k" x="-46" textLength="92" lengthAdjust="spacingAndGlyphs" transform="translate(0,-3) scale(1,0.1)">V</text><text class="b" x="-46" textLength="92" lengthAdjust="spacingAndGlyphs" transform="translate(0,-18) scale(1,0.11)">K</text><text class="b" x="-46" textLength="92" lengthAdjust="spacingAndGlyphs" transform="translate(0,-33) scale(1,2.33)">D</text><path class="e" d="M-9 -341h18M0 -341V-191M-9 -191h18"/></g>
<g transform="translate(2381,1664) scale(1,1.04)"><text class="k" x="-46" textLength="92" lengthAdjust="spacingAndGlyphs" transform="translate(0,-3) scale(1,3.38)">F</text><path class="e" d="M-9 -417h18M0 -417V-265M-9 -265h18"/></g>
<g transform="translate(2471,1664) scale(1,1.04)"><text class="k" x="-46" textLength="92" lengthAdjust="spacingAndGlyphs" transform="translate(0,-3) scale(1,0.1)">F</text><text class="k" x="-46" textLength="92" lengthAdjust="spacingAndGlyphs" transform="translate(0,-16) scale(1,2.18)">L</text><path class="e" d="M-9 -312h18M0 -312V-157M-9 -157h18"/></g>
<g transform="translate(2561,1664) scale(1,1.04)"><text class="g" x="-46" textLength="92" lengthAdjust="spacingAndGlyphs" transform="translate(0,-3) scale(1,0.07)">T</text><text class="g" x="-46" textLength="92" lengthAdjust="spacingAndGlyphs" transform="translate(0,-12) scale(1,0.04)">S</text><text class="b" x="-46" textLength="92" lengthAdjust="spacingAndGlyphs" transform="translate(0,-20) scale(1,0.04)">R</text><text class="k" x="-46" textLength="92" lengthAdjust="spacingAndGlyphs" transform="translate(0,-26) scale(1,0.03)">M</text><text class="k" x="-46" textLength="92" lengthAdjust="spacingAndGlyphs" transform="translate(0,-33) scale(1,0.03)">L</text><text class="g" x="-46" textLength="92" lengthAdjust="spacingAndGlyphs" transform="translate(0,-42) scale(1,0.09)">G</text><text class="b" x="-46" textLength="92" lengthAdjust="spacingAndGlyphs" transform="translate(0,-55) scale(1,0.19)">N</text><text class="k" x="-46" textLength="92" lengthAdjust="spacingAndGlyphs" transform="translate(0,-79) scale(1,0.57)">V</text><path class="e" d="M-9 -192h18M0 -192V-79M-9 -79h18"/></g>
<g transform="translate(2651,1664) scale(1,1.04)"><text class="b" x="-46" textLength="92" lengthAdjust="spacingAndGlyphs" transform="translate(0,-3) scale(1,0.1)">N</text><text class="b" x="-46" textLength="92" lengthAdjust="spacingAndGlyphs" transform="translate(0,-16) scale(1,0.48)">E</text><text class="b" x="-46" textLength="92" lengthAdjust="spacingAndGlyphs" transform="translate(0,-68) scale(1,1.64)">D</text><path class="e" d="M-9 -299h18M0 -299V-164M-9 -164h18"/></g>
<g transform="translate(2741,1664) scale(1,1.04)"><text class="k" x="-46" textLength="92" lengthAdjust="spacingAndGlyphs" transform="translate(0,-3) scale(1,0.05)">C</text><text class="k" x="-46" textLength="92" lengthAdjust="spacingAndGlyphs" transform="translate(0,-14) scale(1,0.13)">F</text><text class="g" x="-46" textLength="92" lengthAdjust="spacingAndGlyphs" transform="translate(0,-30) scale(1,0.16)">A</text><text class="k" x="-46" textLength="92" lengthAdjust="spacingAndGlyphs" transform="translate(0,-50) scale(1,0.53)">V</text><text class="k i" x="-46" textLength="92" lengthAdjust="spacingAndGlyphs" transform="translate(0,-107) scale(1,0.61)">I</text><path class="e" d="M-9 -225h18M0 -225V-112M-9 -112h18"/></g>
<g transform="translate(2831,1664) scale(1,1.04)"><text class="k i" x="-46" textLength="92" lengthAdjust="spacingAndGlyphs" transform="translate(0,-3) scale(1,0.13)">I</text><text class="g" x="-46" textLength="92" lengthAdjust="spacingAndGlyphs" transform="translate(0,-21) scale(1,0.22)">T</text><text class="k" x="-46" textLength="92" lengthAdjust="spacingAndGlyphs" transform="translate(0,-47) scale(1,0.32)">L</text><text class="k" x="-46" textLength="92" lengthAdjust="spacingAndGlyphs" transform="translate(0,-83) scale(1,0.77)">V</text><path class="e" d="M-9 -216h18M0 -216V-105M-9 -105h18"/></g>
<g transform="translate(2921,1664) scale(1,1.04)"><text class="g" x="-45" textLength="90" lengthAdjust="spacingAndGlyphs" transform="translate(0,-3) scale(1,0.07)">S</text><text class="b" x="-45" textLength="90" lengthAdjust="spacingAndGlyphs" transform="translate(0,-18) scale(1,0.07)">Q</text><text class="k" x="-45" textLength="90" lengthAdjust="spacingAndGlyphs" transform="translate(0,-28) scale(1,0.07)">M</text><text class="g" x="-45" textLength="90" lengthAdjust="spacingAndGlyphs" transform="translate(0,-40) scale(1,0.1)">H</text><text class="b" x="-45" textLength="90" lengthAdjust="spacingAndGlyphs" transform="translate(0,-53) scale(1,0.22)">N</text><text class="g" x="-45" textLength="90" lengthAdjust="spacingAndGlyphs" transform="translate(0,-79) scale(1,1.2)">P</text><path class="e" d="M-9 -271h18M0 -271V-128M-9 -128h18"/></g>
<g transform="translate(3011,1664) scale(1,1.04)"><text class="b" x="-38" textLength="76" lengthAdjust="spacingAndGlyphs" transform="translate(0,-4) scale(1,0.04)">Q</text><text class="g" x="-38" textLength="76" lengthAdjust="spacingAndGlyphs" transform="translate(0,-10) scale(1,0.19)">T</text><text class="b" x="-38" textLength="76" lengthAdjust="spacingAndGlyphs" transform="translate(0,-33) scale(1,0.19)">K</text><text class="g" x="-38" textLength="76" lengthAdjust="spacingAndGlyphs" transform="translate(0,-54) scale(1,0.2)">A</text><text class="b" x="-38" textLength="76" lengthAdjust="spacingAndGlyphs" transform="translate(0,-78) scale(1,0.83)">R</text><path class="e" d="M-9 -222h18M0 -222V-99M-9 -99h18"/></g>
<g transform="translate(3101,1664) scale(1,1.04)"><text class="b" x="-33" textLength="66" lengthAdjust="spacingAndGlyphs" transform="translate(0,-3) scale(1,0.09)">R</text><text class="k" x="-33" textLength="66" lengthAdjust="spacingAndGlyphs" transform="translate(0,-14) scale(1,0.12)">L</text><text class="b" x="-33" textLength="66" lengthAdjust="spacingAndGlyphs" transform="translate(0,-29) scale(1,0.4)">E</text><text class="b" x="-33" textLength="66" lengthAdjust="spacingAndGlyphs" transform="translate(0,-73) scale(1,1.11)">D</text><path class="e" d="M-9 -253h18M0 -253V-115M-9 -115h18"/></g>
<g transform="translate(3191,1664) scale(1,1.04)"><text class="b" x="-20" textLength="39" lengthAdjust="spacingAndGlyphs" transform="translate(0,-6) scale(1,0.14)">Q</text><text class="b" x="-20" textLength="39" lengthAdjust="spacingAndGlyphs" transform="translate(0,-24) scale(1,0.21)">D</text><text class="b" x="-20" textLength="39" lengthAdjust="spacingAndGlyphs" transform="translate(0,-47) scale(1,1.39)">E</text><path class="e" d="M-9 -270h18M0 -270V-103M-9 -103h18"/></g>
<g transform="translate(3281,1664) scale(1,1.04)"><text class="k" x="-18" textLength="36" lengthAdjust="spacingAndGlyphs" transform="translate(0,-3) scale(1,0.79)">M</text><text class="g" x="-18" textLength="36" lengthAdjust="spacingAndGlyphs" transform="translate(0,-84) scale(1,1.09)">A</text><path class="e" d="M-9 -280h18M0 -280V-108M-9 -108h18"/></g>
<g transform="translate(3371,1664) scale(1,1.04)"><text class="b" x="-6" textLength="11" lengthAdjust="spacingAndGlyphs" transform="translate(0,-28) scale(1,1.57)">Q</text><path class="e" d="M-9 -276h18M0 -276V-82M-9 -82h18"/></g>
</g>
</svg>
</body></html>
